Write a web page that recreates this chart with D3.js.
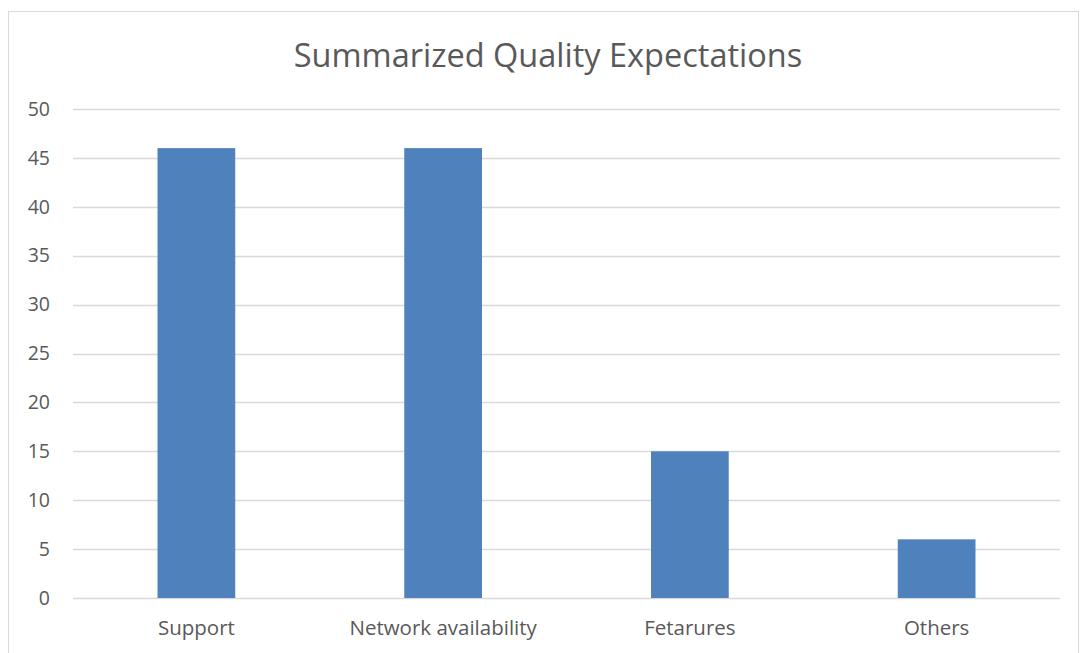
<!DOCTYPE html>
<html>
<head>
<meta charset="utf-8">
<script src="https://cdn.jsdelivr.net/npm/d3@7"></script>
<style>
  body { margin: 0; background: #fff; }
  text { font-family: "Open Sans", "Noto Sans", sans-serif; fill: #595959; }
</style>
</head>
<body>
<div id="chart-area"></div>
<script>
const categories = ["Support", "Network availability", "Fetarures", "Others"]
const values = [46, 46, 15, 6]
const yTicks = [0, 5, 10, 15, 20, 25, 30, 35, 40, 45, 50]
const title = "Summarized Quality Expectations"

const W = 1081, H = 653
const MARGIN = { LEFT: 73, RIGHT: 21, TOP: 109, BOTTOM: 55 }

const svg = d3.select("#chart-area").append("svg")
  .attr("width", W)
  .attr("height", H)

// chart frame
svg.append("rect")
  .attr("x", 8.5).attr("y", 11.5)
  .attr("width", 1070).attr("height", 660)
  .attr("fill", "#fff")
  .attr("stroke", "#d9d9d9")

const x = d3.scaleBand()
  .domain(categories)
  .range([MARGIN.LEFT, W - MARGIN.RIGHT])
  .paddingInner(0.685)
  .paddingOuter(0.3425)

const y = d3.scaleLinear()
  .domain([0, 50])
  .range([598, MARGIN.TOP])

// gridlines
svg.append("g")
  .selectAll("line")
  .data(yTicks)
  .enter().append("line")
  .attr("x1", MARGIN.LEFT)
  .attr("x2", W - MARGIN.RIGHT)
  .attr("y1", d => Math.round(y(d)) + 0.5)
  .attr("y2", d => Math.round(y(d)) + 0.5)
  .attr("stroke", "#d9d9d9")
  .attr("stroke-width", 1.3)

// y axis labels
const yAxis = d3.axisLeft(y).tickValues(yTicks).tickSize(0).tickPadding(0)
svg.append("g")
  .attr("transform", "translate(50,0)")
  .call(yAxis)
  .call(g => g.select(".domain").remove())
  .selectAll("text")
  .style("font-size", "19.5px")
  .attr("fill", "#595959")

// bars
svg.append("g")
  .selectAll("rect")
  .data(values)
  .enter().append("rect")
  .attr("x", (d, i) => x(categories[i]))
  .attr("width", x.bandwidth())
  .attr("y", d => y(d))
  .attr("height", d => y(0) - y(d))
  .attr("fill", "#4f81bd")

// x axis labels
const xAxis = d3.axisBottom(x).tickSize(0).tickPadding(0)
svg.append("g")
  .attr("transform", "translate(0,620)")
  .call(xAxis)
  .call(g => g.select(".domain").remove())
  .selectAll("text")
  .style("font-size", "20.5px")
  .attr("fill", "#595959")

svg.append("text")
  .attr("x", 548)
  .attr("y", 67)
  .attr("text-anchor", "middle")
  .style("font-size", "32.5px")
  .text(title)
</script>
</body>
</html>
